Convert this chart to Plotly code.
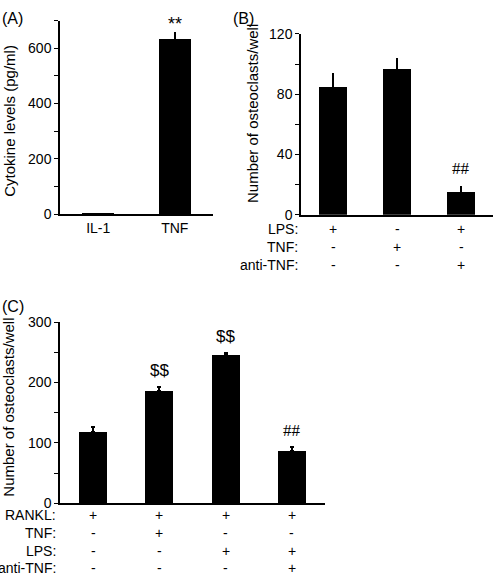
import plotly.graph_objects as go

# ---- data ----
a_cats = ["IL-1", "TNF"]
a_vals = [3, 635]
a_err = [1, 25]

b_vals = [85, 97, 15]
b_err = [9, 7, 4]
b_lps = ["+", "-", "+"]
b_tnf = ["-", "+", "-"]
b_anti = ["-", "-", "+"]

c_vals = [118, 186, 246, 86]
c_err = [8, 7, 3, 7]
c_rankl = ["+", "+", "+", "+"]
c_tnf = ["-", "+", "-", "-"]
c_lps = ["-", "-", "+", "+"]
c_anti = ["-", "-", "-", "+"]

W, H = 494, 582
FONT = "Liberation Sans, Arial, sans-serif"
SERIF = "Liberation Serif, Times New Roman, serif"

def px(x):
    return x / W

def py(y):
    return 1 - y / H

fig = go.Figure()

def err_style(e, cap):
    return dict(type="data", symmetric=False, array=e, arrayminus=[0] * len(e),
                color="black", thickness=2, width=cap)

fig.add_trace(go.Bar(x=a_cats, y=a_vals, error_y=err_style(a_err, 0), marker_color="black",
                     marker_line_width=0, width=0.42, xaxis="x", yaxis="y"))
fig.add_trace(go.Bar(x=list(range(len(b_vals))), y=b_vals, error_y=err_style(b_err, 0),
                     marker_color="black", marker_line_width=0, width=0.45,
                     xaxis="x2", yaxis="y2"))
fig.add_trace(go.Bar(x=list(range(len(c_vals))), y=c_vals, error_y=err_style(c_err, 2),
                     marker_color="black", marker_line_width=0, width=0.42,
                     xaxis="x3", yaxis="y3"))

tickfont = dict(family=FONT, size=14, color="black")

def yax(domain, rng, dtick, mdtick, anchor):
    return dict(domain=domain, range=rng, dtick=dtick, tick0=0, showline=True,
                linecolor="black", linewidth=1.5, ticks="outside", ticklen=4, tickwidth=1,
                tickcolor="black", showgrid=False, zeroline=False, tickfont=tickfont,
                anchor=anchor, fixedrange=True,
                minor=dict(dtick=mdtick, tick0=0, ticks="outside", ticklen=4, tickwidth=1,
                           tickcolor="black", showgrid=False))

def xax(domain, rng, anchor, showlabels):
    return dict(domain=domain, range=rng, showline=True, linecolor="black", linewidth=1.5,
                ticks="", showgrid=False, zeroline=False, tickfont=tickfont,
                showticklabels=showlabels, anchor=anchor, fixedrange=True)

fig.update_layout(
    width=W, height=H, margin=dict(l=0, r=0, t=0, b=0),
    paper_bgcolor="white", plot_bgcolor="white", showlegend=False, bargap=0,
    font=dict(family=FONT, size=14, color="black"),
    xaxis=xax([px(60), px(213)], [-0.5, 1.5], "y", True),
    yaxis=yax([py(212), py(13)], [0, 700], 200, 100, "x"),
    xaxis2=xax([px(301), px(493)], [-0.5, 2.5], "y2", False),
    yaxis2=yax([py(212.7), py(26.7)], [0, 120], 40, 20, "x2"),
    xaxis3=xax([px(60), px(325)], [-0.5, 3.5], "y3", False),
    yaxis3=yax([py(509.3), py(323)], [0, 300], 100, 50, "x3"),
)

ann = []
def txt(x, y, text, size=14, xref="paper", yref="paper", xanchor="center", yanchor="middle",
        angle=0, family=FONT):
    ann.append(dict(x=x, y=y, xref=xref, yref=yref, text=text, showarrow=False,
                    font=dict(family=family, size=size, color="black"),
                    xanchor=xanchor, yanchor=yanchor, textangle=angle))

# panel labels
txt(0, py(0), "(A)", 16, xanchor="left", yanchor="top")
txt(px(231), py(0), "(B)", 16, xanchor="left", yanchor="top")
txt(0, py(296), "(C)", 16, xanchor="left", yanchor="top")

# y titles
txt(px(10), py(116), "Cytokine levels (pg/ml)", 15, angle=-90)
txt(px(252), py(109), "Number of osteoclasts/well", 15, angle=-90)
txt(px(9), py(411), "Number of osteoclasts/well", 15, angle=-90)

# significance marks
txt(a_cats[1], py(4), "**", 18, xref="x", yanchor="top")
txt(2, b_vals[2] + b_err[2] + 4, "##", 17, xref="x2", yref="y2", yanchor="bottom", family=SERIF)
txt(1, c_vals[1] + c_err[1] + 8, "$$", 17, xref="x3", yref="y3", yanchor="bottom")
txt(2, c_vals[2] + c_err[2] + 8, "$$", 17, xref="x3", yref="y3", yanchor="bottom")
txt(3, c_vals[3] + c_err[3] + 8, "##", 17, xref="x3", yref="y3", yanchor="bottom", family=SERIF)

# condition rows
b_rows = [("LPS:", b_lps, 227), ("TNF:", b_tnf, 246), ("anti-TNF:", b_anti, 264)]
for name, signs, yy in b_rows:
    txt(px(300), py(yy), name, 14, xanchor="right")
    for i, s in enumerate(signs):
        txt(i, py(yy), s, 14, xref="x2")

c_rows = [("RANKL:", c_rankl, 521.7), ("TNF:", c_tnf, 540), ("LPS:", c_lps, 558),
          ("anti-TNF:", c_anti, 576)]
for name, signs, yy in c_rows:
    txt(px(58), py(yy), name, 14, xanchor="right")
    for i, s in enumerate(signs):
        txt(i, py(yy), s, 14, xref="x3")

fig.update_layout(annotations=ann)
fig.write_html("out.html", config={"displayModeBar": False},
               post_script="document.body.style.margin='0';document.body.style.overflow='hidden';")
